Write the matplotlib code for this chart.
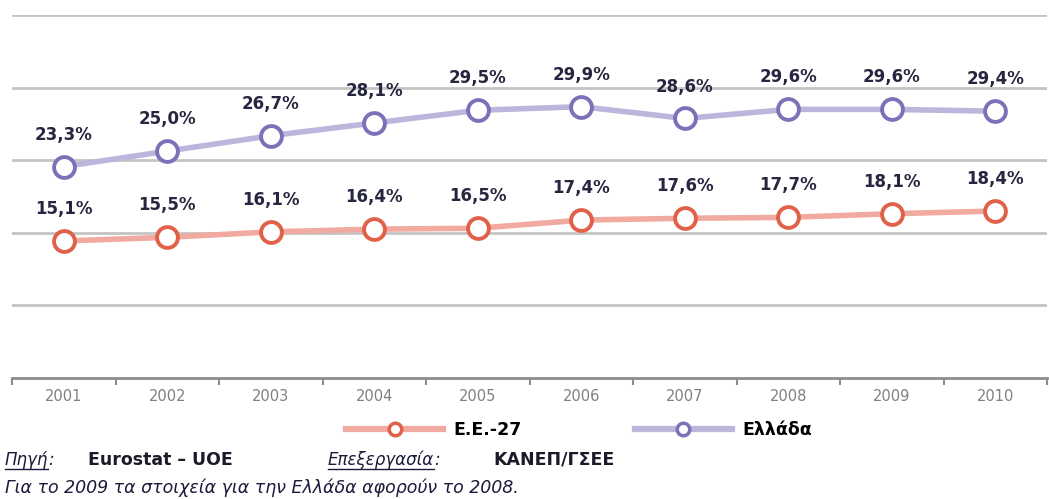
import numpy as np
import matplotlib.pyplot as plt
from matplotlib.lines import Line2D

years = ['2001', '2002', '2003', '2004', '2005', '2006', '2007', '2008', '2009', '2010']
ee27 = [15.1, 15.5, 16.1, 16.4, 16.5, 17.4, 17.6, 17.7, 18.1, 18.4]
greece = [23.3, 25.0, 26.7, 28.1, 29.5, 29.9, 28.6, 29.6, 29.6, 29.4]
series_names = ['Ε.Ε.-27', 'Ελλάδα']

ee_line, ee_edge = '#f0aaa0', '#e06048'
gr_line, gr_edge = '#bdb5dc', '#7c70b8'

fig = plt.figure(figsize=(10.49, 4.99), dpi=100)
ax = fig.add_axes([12 / 1049, 121 / 499, 1035 / 1049, 363 / 499])

x = np.arange(len(years))
for vals, lc, ec in [(ee27, ee_line, ee_edge), (greece, gr_line, gr_edge)]:
    ax.plot(x, vals, color=lc, lw=4, marker='o', ms=15, mfc='white',
            mec=ec, mew=2.8, zorder=3)
    for xi, v in zip(x, vals):
        ax.annotate(f'{v:.1f}%'.replace('.', ','), (xi, v), xytext=(0, 23),
                    textcoords='offset points', ha='center', va='center',
                    fontsize=12, fontweight='bold', color='#262640')

ax.set_xlim(-0.5, len(years) - 0.5)
ax.set_ylim(0, 40)
ax.set_yticks(np.arange(8, 41, 8))
ax.yaxis.grid(True, color='#c4c4c4', lw=2)
ax.tick_params(axis='y', left=False, labelleft=False)
ax.set_xticks(x)
ax.set_xticklabels(years, fontsize=10.5, color='#808080')
ax.tick_params(axis='x', length=0, pad=8)
ax.set_xticks(np.arange(-0.5, len(years)), minor=True)
ax.tick_params(axis='x', which='minor', length=5, width=1.5, color='#8c8c8c')
for s in ['top', 'right', 'left']:
    ax.spines[s].set_visible(False)
ax.spines['bottom'].set_color('#8c8c8c')
ax.spines['bottom'].set_linewidth(2)
ax.set_axisbelow(True)

handles = [Line2D([], [], color=ee_line, lw=4.5, marker='o', ms=9, mfc='white', mec=ee_edge, mew=2.5),
           Line2D([], [], color=gr_line, lw=4.5, marker='o', ms=9, mfc='white', mec=gr_edge, mew=2.5)]
fig.legend(handles, series_names, loc='center', bbox_to_anchor=(0.552, 1 - 430 / 499), ncol=2,
           frameon=False, handlelength=5.6, columnspacing=6.5, handletextpad=0.6,
           prop={'weight': 'bold', 'size': 12.5})

# footer
renderer = fig.canvas.get_renderer()
def underlined(xp, yp, s):
    t = fig.text(xp / 1049, 1 - yp / 499, s, fontsize=12, style='italic',
                 color='#1a1a3a', va='center')
    bb = t.get_window_extent(renderer).transformed(fig.transFigure.inverted())
    fig.add_artist(Line2D([bb.x0, bb.x1], [bb.y0, bb.y0], color='#1a1a3a', lw=1,
                          transform=fig.transFigure))
    fig.text(bb.x1, 1 - yp / 499, ':', fontsize=12, style='italic',
             color='#1a1a3a', va='center')

underlined(5, 460, 'Πηγή')
fig.text(88 / 1049, 1 - 460 / 499, 'Eurostat – UOE', fontsize=12.5, fontweight='bold',
         color='#1a1a2a', va='center')
underlined(328, 460, 'Επεξεργασία')
fig.text(493 / 1049, 1 - 460 / 499, 'ΚΑΝΕΠ/ΓΣΕΕ', fontsize=12.5, fontweight='bold',
         color='#1a1a2a', va='center')
fig.text(5 / 1049, 1 - 488 / 499, 'Για το 2009 τα στοιχεία για την Ελλάδα αφορούν το 2008.',
         fontsize=12.5, style='italic', color='#1a1a3a', va='center')

fig.savefig('out.png', dpi=100)
